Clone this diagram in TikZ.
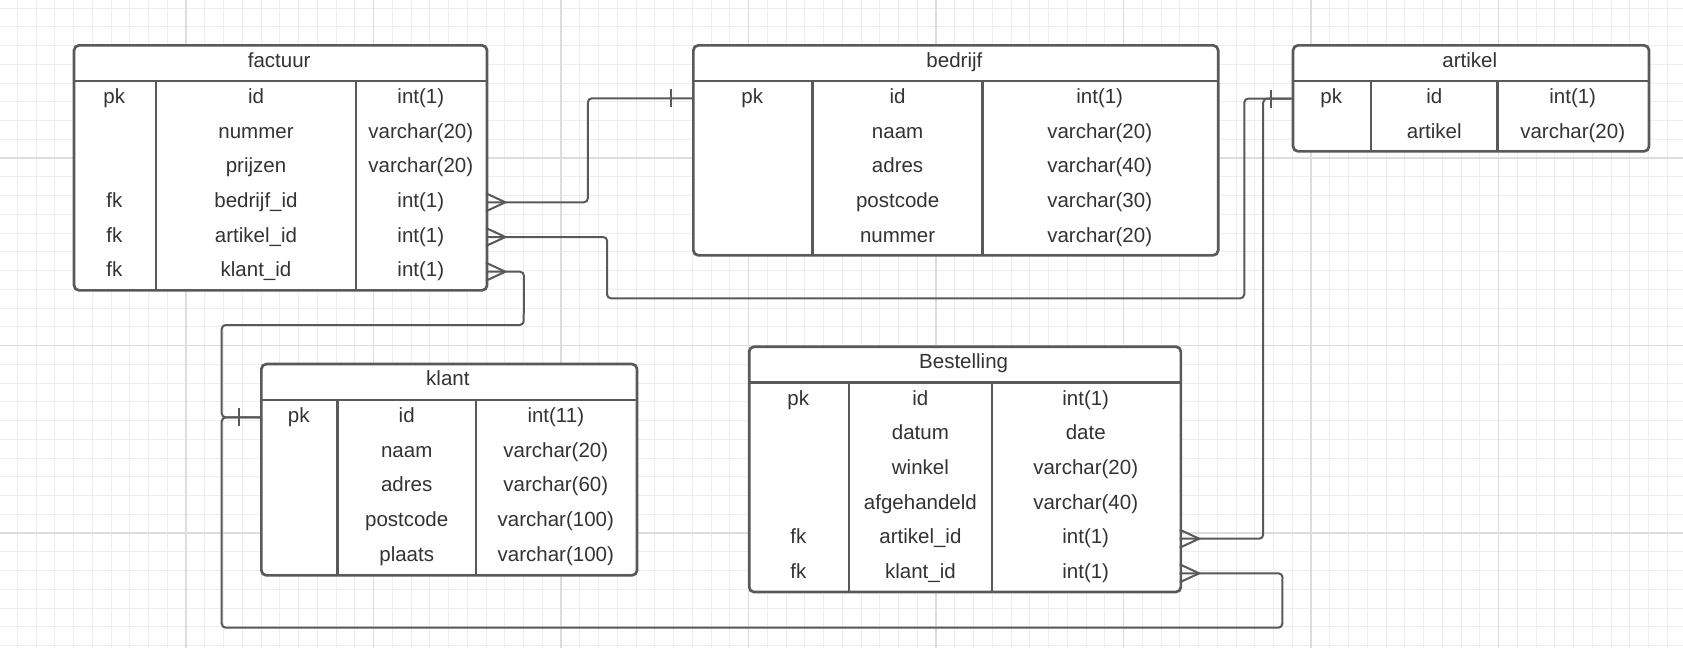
\documentclass[tikz,border=0pt]{standalone}
\usepackage{fontspec}
\setmainfont{Liberation Sans}
\usetikzlibrary{calc}
\definecolor{lineC}{HTML}{595959}
\definecolor{textC}{HTML}{333333}
\definecolor{gridMinor}{HTML}{EEEEEE}
\definecolor{gridMajor}{HTML}{DDDDDD}
\tikzset{
  tablebox/.style={draw=lineC, line width=2.7pt, rounded corners=5pt, fill=white, inner sep=0pt, anchor=north west},
  tline/.style={draw=lineC, line width=2.5pt},
  cell/.style={anchor=base, inner sep=0pt, text=textC, font=\fontsize{20.5}{24}\selectfont},
  rowbox/.style={draw=none, inner sep=0pt, minimum height=34.67},
  conn/.style={draw=lineC, line width=2pt, rounded corners=4pt},
  crowline/.style={draw=lineC, line width=2pt},
}
\newcommand\ertable[9]{%
  \node[tablebox, minimum width={#4-#2}, minimum height={#5-#3}] (#1) at (#2,#3) {};
  \draw[tline] (#2,#9) -- (#4,#9);
  \draw[tline] (#6,#9) -- (#6,#5);
  \draw[tline] (#7,#9) -- (#7,#5);
  \node[cell] (#1-title) at ({(#2+#4)/2},#3+23) {#8};
}
\newcommand\errow[5]{%
  \node[rowbox, minimum width={\erR-\erL}] (#1) at ({(\erL+\erR)/2},#2) {};
  \node[cell] (#1-k) at (\erA,#2+5) {#3};
  \node[cell] (#1-n) at (\erB,#2+5) {#4};
  \node[cell] (#1-t) at (\erC,#2+5) {#5};
}
\newcommand\crowfoot[1]{%
  \draw[crowline] ($(#1)+(0,-9)$) -- ($(#1)+(19.5,0)$) -- ($(#1)+(0,9)$);
}
\newcommand\onebar[1]{%
  \draw[crowline] ($(#1)+(-20.5,-9)$) -- ($(#1)+(-20.5,9)$);
}
\begin{document}
\begin{tikzpicture}[x=1pt, y=-1pt]
\useasboundingbox (0,0) rectangle (1683,648);
\fill[white] (0,0) rectangle (1683,648);
% grid
\foreach \i in {0,...,89} \draw[gridMinor, line width=1pt] ({17.25+18.75*\i},0) -- ++(0,648);
\foreach \i in {0,...,34} \draw[gridMinor, line width=1pt] (0,{8+18.75*\i}) -- ++(1683,0);
\foreach \i in {0,...,8} \draw[gridMajor, line width=1.6pt] ({185.9+187.5*\i},0) -- ++(0,648);
\foreach \i in {0,...,2} \draw[gridMajor, line width=1.6pt] (0,{158+187.5*\i}) -- ++(1683,0);

% factuur
\ertable{factuur}{72.7}{44}{485.7}{289}{156}{356}{factuur}{81}
\def\erL{72.7}\def\erR{485.7}\def\erA{114.3}\def\erB{256}\def\erC{420.8}
\errow{factuur-r1}{98.3}{pk}{id}{int(1)}
\errow{factuur-r2}{133}{}{nummer}{varchar(20)}
\errow{factuur-r3}{167.7}{}{prijzen}{varchar(20)}
\errow{factuur-r4}{202.3}{fk}{bedrijf\_id}{int(1)}
\errow{factuur-r5}{237}{fk}{artikel\_id}{int(1)}
\errow{factuur-r6}{271.7}{fk}{klant\_id}{int(1)}

% bedrijf
\ertable{bedrijf}{692}{44}{1216.8}{254}{812.5}{982.7}{bedrijf}{81}
\def\erL{692}\def\erR{1216.8}\def\erA{752.2}\def\erB{897.6}\def\erC{1099.7}
\errow{bedrijf-r1}{98.3}{pk}{id}{int(1)}
\errow{bedrijf-r2}{133}{}{naam}{varchar(20)}
\errow{bedrijf-r3}{167.7}{}{adres}{varchar(40)}
\errow{bedrijf-r4}{202.3}{}{postcode}{varchar(30)}
\errow{bedrijf-r5}{237}{}{nummer}{varchar(20)}

% artikel
\ertable{artikel}{1291.7}{44}{1647.7}{150}{1371}{1497.7}{artikel}{81}
\def\erL{1291.7}\def\erR{1647.7}\def\erA{1331.3}\def\erB{1434.3}\def\erC{1572.7}
\errow{artikel-r1}{98.5}{pk}{id}{int(1)}
\errow{artikel-r2}{133}{}{artikel}{varchar(20)}

% klant
\ertable{klant}{260}{362.7}{635.7}{574}{337.3}{476}{klant}{400}
\def\erL{260}\def\erR{635.7}\def\erA{298.7}\def\erB{406.7}\def\erC{555.8}
\errow{klant-r1}{417.4}{pk}{id}{int(11)}
\errow{klant-r2}{452}{}{naam}{varchar(20)}
\errow{klant-r3}{486.8}{}{adres}{varchar(60)}
\errow{klant-r4}{521.5}{}{postcode}{varchar(100)}
\errow{klant-r5}{556.2}{}{plaats}{varchar(100)}

% Bestelling
\ertable{bestelling}{747.8}{345.3}{1179.5}{590.7}{848.8}{992}{Bestelling}{382.7}
\def\erL{747.8}\def\erR{1179.5}\def\erA{798.3}\def\erB{920.4}\def\erC{1085.7}
\errow{bestelling-r1}{400}{pk}{id}{int(1)}
\errow{bestelling-r2}{434.7}{}{datum}{date}
\errow{bestelling-r3}{469.3}{}{winkel}{varchar(20)}
\errow{bestelling-r4}{504}{}{afgehandeld}{varchar(40)}
\errow{bestelling-r5}{538.7}{fk}{artikel\_id}{int(1)}
\errow{bestelling-r6}{573.3}{fk}{klant\_id}{int(1)}

% connectors
\draw[conn] (factuur-r4.east) -- ++(102,0) |- (bedrijf-r1.west);
\draw[conn] (factuur-r5.east) -- ++(121.3,0) -- (607,298.3) -- (1244.3,298.3) |- (artikel-r1.west);
\draw[conn] (bestelling-r5.east) -- ++(83.5,0) |- (artikel-r1.west);
\draw[conn] (factuur-r6.east) -- ++(38,0) -- (523.7,325) -- (221.7,325) |- (klant-r1.west);
\draw[conn] (bestelling-r6.east) -- ++(102.8,0) -- (1282.3,627.7) -- (221.7,627.7) |- (klant-r1.west);

\crowfoot{factuur-r4.east}
\crowfoot{factuur-r5.east}
\crowfoot{factuur-r6.east}
\crowfoot{bestelling-r5.east}
\crowfoot{bestelling-r6.east}
\onebar{bedrijf-r1.west}
\onebar{artikel-r1.west}
\onebar{klant-r1.west}
\end{tikzpicture}
\end{document}
